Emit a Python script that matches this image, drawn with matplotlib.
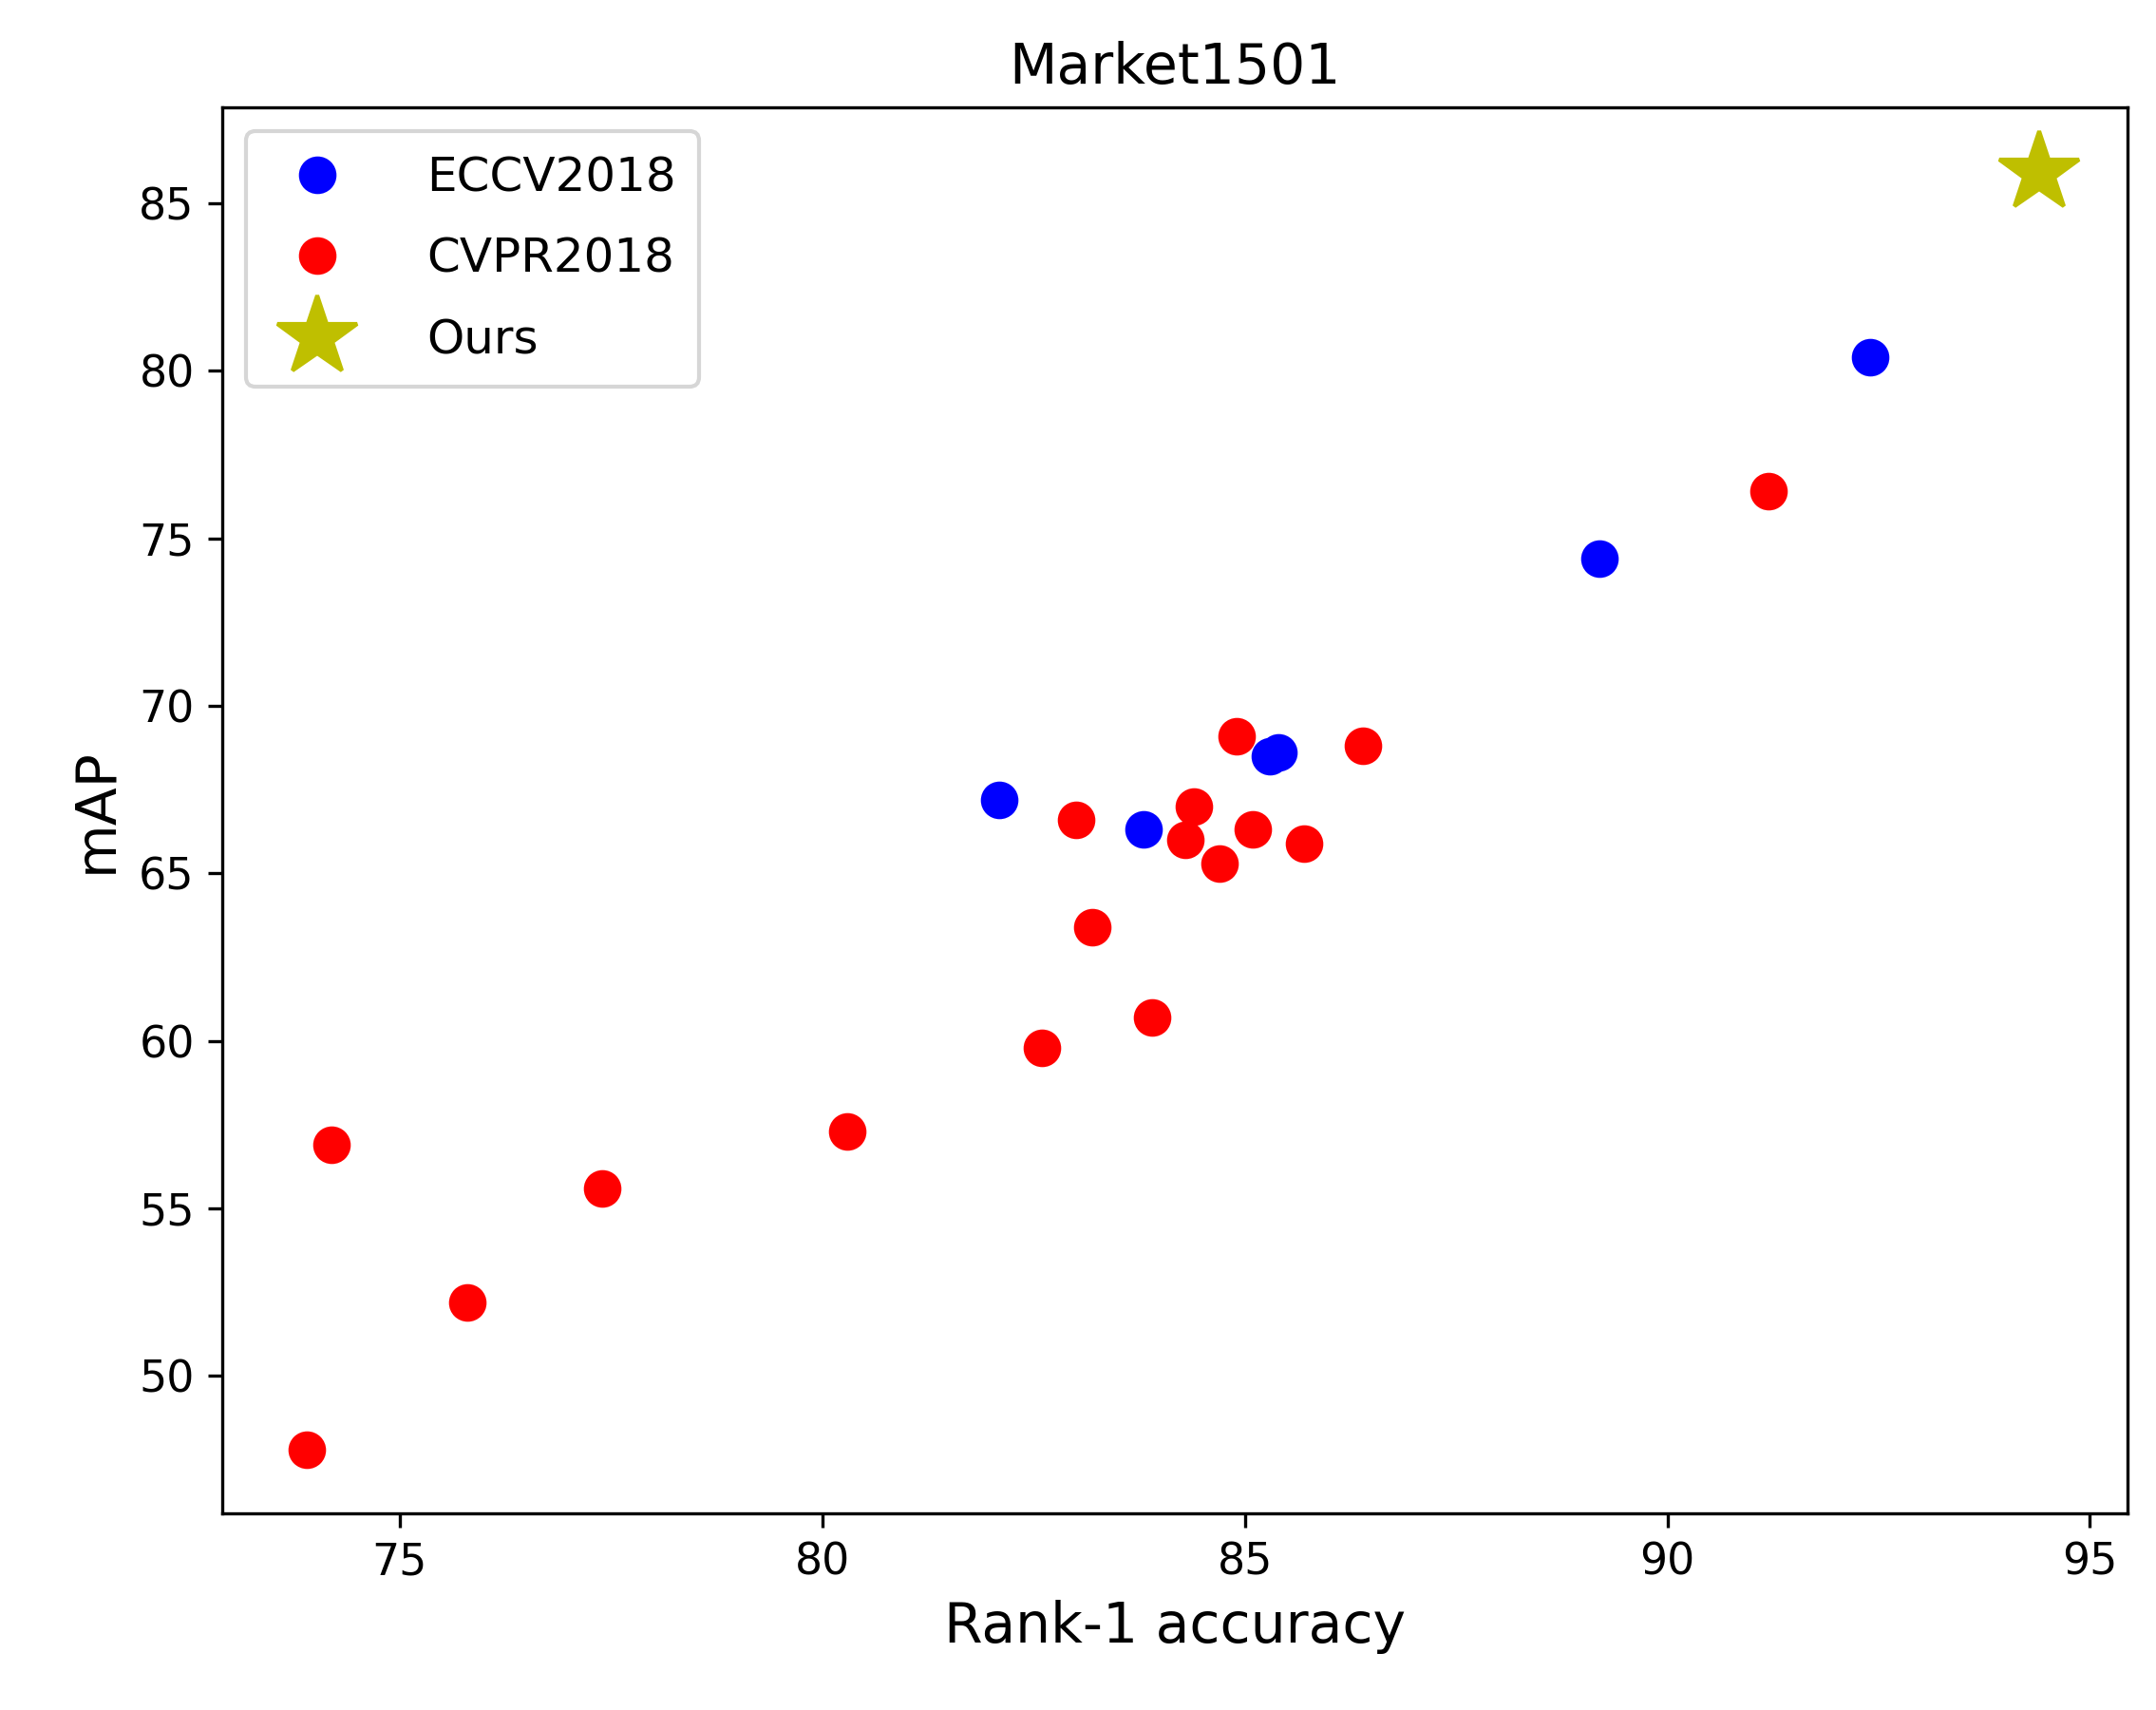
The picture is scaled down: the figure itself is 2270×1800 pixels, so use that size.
import matplotlib
matplotlib.use("Agg")
import matplotlib.pyplot as plt

# Rank-1 accuracy / mAP per method
eccv_rank1 = [82.1, 83.8, 85.3, 85.4, 89.2, 92.4]
eccv_map = [67.2, 66.3, 68.5, 68.6, 74.4, 80.4]

cvpr_rank1 = [73.9, 74.2, 75.8, 77.4, 80.3, 82.6, 83.0, 83.2, 83.9,
              84.3, 84.4, 84.7, 84.9, 85.1, 85.7, 86.4, 91.2]
cvpr_map = [47.8, 56.9, 52.2, 55.6, 57.3, 59.8, 66.6, 63.4, 60.7,
            66.0, 67.0, 65.3, 69.1, 66.3, 65.9, 68.8, 76.4]

ours_rank1 = [94.4]
ours_map = [85.9]

fig = plt.figure(figsize=(2270 / 300, 1800 / 300), dpi=300)
ax = fig.add_axes([0.103, 0.115, 0.884, 0.822])

ax.plot(eccv_rank1, eccv_map, "o", color="b", markersize=8.5, label="ECCV2018")
ax.plot(cvpr_rank1, cvpr_map, "o", color="r", markersize=8.5, label="CVPR2018")
ax.plot(ours_rank1, ours_map, "*", color="y", markersize=21, label="Ours")

ax.set_xlim(72.9, 95.45)
ax.set_ylim(45.9, 87.85)
ax.set_xticks([75, 80, 85, 90, 95])
ax.set_yticks([50, 55, 60, 65, 70, 75, 80, 85])
ax.tick_params(labelsize=11)
ax.set_xlabel("Rank-1 accuracy", fontsize=14)
ax.set_ylabel("mAP", fontsize=14)
ax.set_title("Market1501", fontsize=14)
ax.legend(loc="upper left", fontsize=12, borderpad=0.5, labelspacing=0.75,
          handletextpad=1.3)

fig.savefig("out.png", dpi=300)
